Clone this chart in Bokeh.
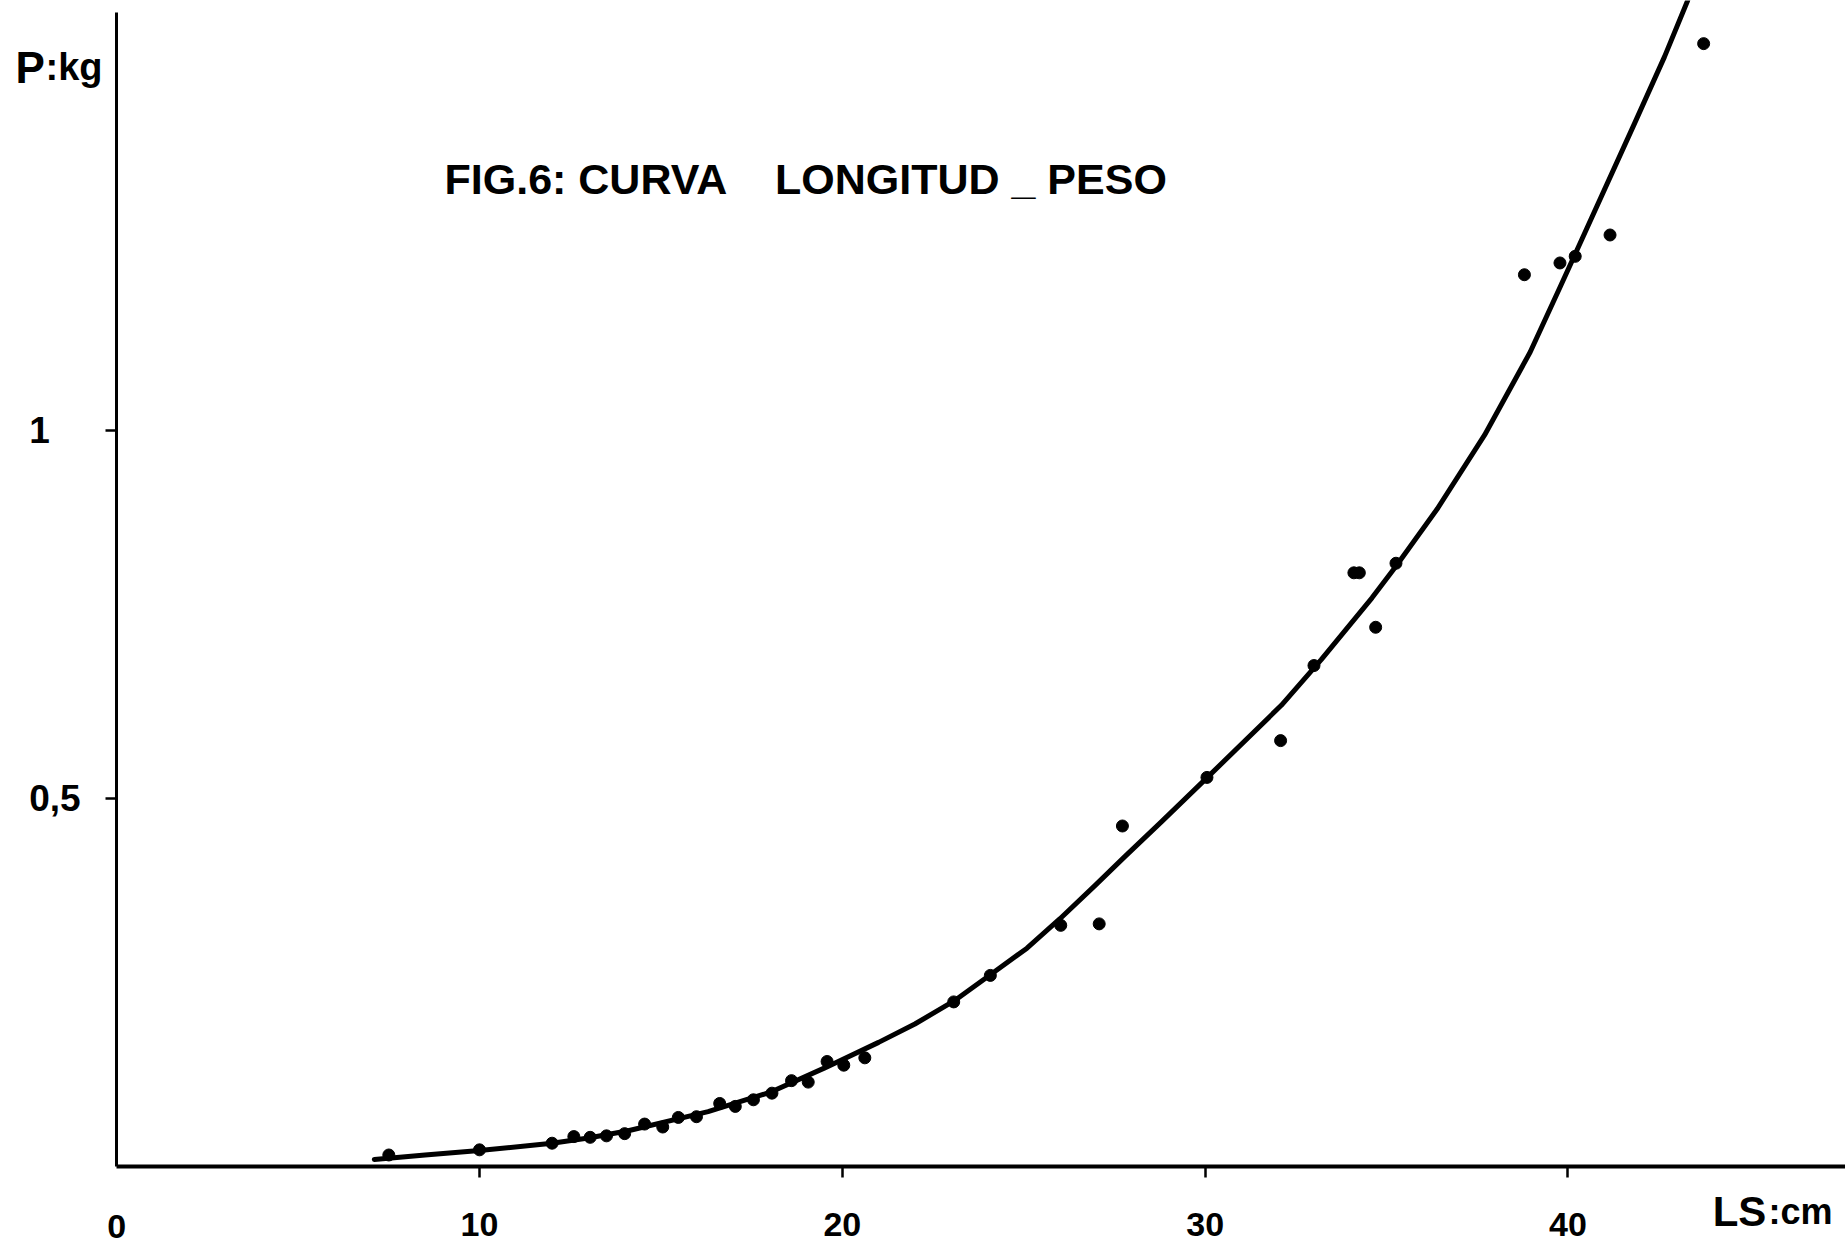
from bokeh.plotting import figure
from bokeh.models import FixedTicker, Label, Range1d, LinearAxis
from bokeh.embed import file_html
from bokeh.resources import INLINE

# Observed data points (LS in cm, P in kg)
ls_cm = [7.5, 10.0, 12.0, 12.6, 13.05, 13.5, 14.0, 14.55, 15.05, 15.48, 15.98,
         16.62, 17.05, 17.55, 18.06, 18.6, 19.06, 19.58, 20.04, 20.62,
         23.07, 24.08, 26.02, 27.08, 27.72, 30.05, 32.08, 33.0,
         34.1, 34.25, 34.70, 35.26, 38.8, 39.78, 40.2, 41.16, 43.74]
p_kg = [0.015, 0.022, 0.031, 0.040, 0.039, 0.041, 0.044, 0.057, 0.053, 0.066, 0.067,
        0.085, 0.081, 0.090, 0.099, 0.116, 0.114, 0.142, 0.137, 0.147,
        0.223, 0.259, 0.327, 0.329, 0.462, 0.528, 0.578, 0.680,
        0.806, 0.806, 0.732, 0.819, 1.211, 1.227, 1.236, 1.265, 1.525]

# Hand-drawn fitted curve
curve_ls = [7.1, 8.5, 10.0, 12.0, 13.0, 14.1, 16.3, 18.0, 19.5, 21.0, 22.0,
            23.07, 24.08, 25.09, 26.0, 26.94, 27.8, 28.8, 30.04, 32.1, 33.2,
            34.6, 35.26, 36.4, 37.7, 38.96, 39.8, 40.3, 41.83, 42.66, 43.3]
curve_p = [0.009, 0.015, 0.021, 0.031, 0.038, 0.048, 0.074, 0.100, 0.133, 0.168, 0.193,
           0.224, 0.260, 0.296, 0.336, 0.380, 0.421, 0.468, 0.527, 0.626, 0.688,
           0.772, 0.815, 0.893, 0.993, 1.106, 1.196, 1.250, 1.416, 1.507, 1.5836]

x_ticks = [10, 20, 30, 40]
x_origin_label = "0"
y_ticks = [0.5, 1]
y_tick_labels = {0.5: "0,5", 1: "1\u00a0\u00a0\u00a0"}
title_text = "FIG.6: CURVA\u00a0\u00a0\u00a0\u00a0LONGITUD\u00a0_\u00a0PESO"

FONT = "Liberation Sans"

p = figure(width=1845, height=1247,
           x_range=Range1d(-3.203, 47.65), y_range=Range1d(-0.1107, 1.5836),
           output_backend="svg", toolbar_location=None,
           x_axis_location=None, y_axis_location=None,
           min_border_left=0, min_border_right=0,
           min_border_top=0, min_border_bottom=0)
p.outline_line_color = None
p.background_fill_color = "white"
p.border_fill_color = "white"
p.xgrid.visible = False
p.ygrid.visible = False

p.line(curve_ls, curve_p, line_color="black", line_width=5, line_join="round", line_cap="round")
p.scatter(ls_cm, p_kg, size=12, fill_color="black", line_color="black")

xa = LinearAxis(fixed_location=0, bounds=(0, 47.65))
xa.ticker = FixedTicker(ticks=x_ticks)
xa.axis_line_width = 4
xa.axis_line_color = "black"
xa.major_tick_line_width = 2.5
xa.major_tick_out = 11
xa.major_tick_in = 0
xa.minor_tick_out = 0
xa.minor_tick_in = 0
xa.major_label_standoff = 36
xa.major_label_text_font = FONT
xa.major_label_text_font_style = "bold"
xa.major_label_text_font_size = "34px"
xa.major_label_text_color = "black"
p.add_layout(xa, "below")

ya = LinearAxis(fixed_location=0, bounds=(0, 1.567))
ya.ticker = FixedTicker(ticks=y_ticks)
ya.major_label_overrides = y_tick_labels
ya.axis_line_width = 3
ya.axis_line_color = "black"
ya.major_tick_line_width = 2.5
ya.major_tick_out = 11
ya.major_tick_in = 0
ya.minor_tick_out = 0
ya.minor_tick_in = 0
ya.major_label_standoff = 25
ya.major_label_text_font = FONT
ya.major_label_text_font_style = "bold"
ya.major_label_text_font_size = "37px"
ya.major_label_text_color = "black"
p.add_layout(ya, "left")

def lab(text, x, y, size, align="left", baseline="alphabetic"):
    p.add_layout(Label(x=x, y=y, text=text,
                       text_font=FONT, text_font_style="bold",
                       text_font_size=size, text_color="black",
                       text_align=align, text_baseline=baseline))

# "0" at origin, below the axis
lab(x_origin_label, 0, -0.0822, "34px", align="center")
# x-axis title
lab("LS", 43.99, -0.062, "42px")
lab(":cm", 45.53, -0.062, "36px")
# y-axis title
lab("P", -2.79, 1.493, "44px")
lab(":kg", -1.963, 1.493, "38px")
# figure title
lab(title_text, 18.99, 1.341, "43px", align="center")

open("out.html", "w").write(file_html(p, INLINE))
